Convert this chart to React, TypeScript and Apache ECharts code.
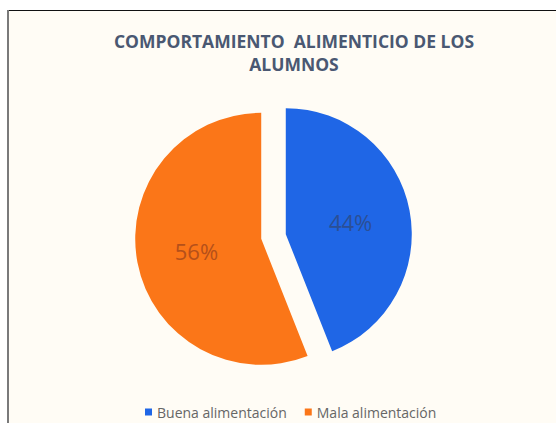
import React, { useEffect, useRef } from "react";
import * as echarts from "echarts";

const categories = ["Buena alimentación", "Mala alimentación"];
const values = [44, 56];
const colors = ["#1f66e6", "#fb7618"];
const labelColors = ["#2b4f95", "#b5501a"];
const titleText = "COMPORTAMIENTO  ALIMENTICIO DE LOS\nALUMNOS";

export default function App() {
  const ref = useRef<HTMLDivElement>(null);
  useEffect(() => {
    if (!ref.current) return;
    const chart = echarts.init(ref.current, null, { renderer: "svg" });
    chart.setOption({
      animation: false,
      backgroundColor: "#ffffff",
      graphic: [
        {
          type: "rect",
          shape: { x: 8, y: 10, width: 560, height: 420 },
          style: { fill: "#fffcf5" },
          z: -10,
          silent: true,
        },
        {
          type: "line",
          shape: { x1: 8, y1: 10.5, x2: 556, y2: 10.5 },
          style: { stroke: "#111111", lineWidth: 1 },
          silent: true,
        },
        {
          type: "line",
          shape: { x1: 8, y1: 10, x2: 8, y2: 423 },
          style: { stroke: "#7a7a7a", lineWidth: 2 },
          silent: true,
        },
      ],
      title: {
        text: titleText,
        left: 289,
        top: 24,
        textAlign: "center",
        textStyle: {
          fontFamily: "Open Sans",
          fontSize: 17.5,
          fontWeight: "bold",
          color: "#4a5872",
          lineHeight: 23,
        },
      },
      legend: {
        left: 140,
        top: 400,
        itemWidth: 7,
        itemHeight: 7,
        itemGap: 18,
        icon: "rect",
        selectedMode: false,
        textStyle: { fontFamily: "Open Sans", fontSize: 14, color: "#666666" },
        data: categories,
      },
      series: [
        {
          type: "pie",
          center: [273.5, 236.5],
          radius: 126,
          startAngle: 90,
          clockwise: true,
          selectedMode: "multiple",
          selectedOffset: 12.5,
          emphasis: { disabled: true },
          label: {
            show: true,
            position: "inside",
            fontFamily: "Open Sans",
            fontSize: 22,
            formatter: (p: any) => Math.round(p.percent) + "%",
          },
          labelLine: { show: false },
          data: categories.map((name, i) => ({
            name,
            value: values[i],
            selected: true,
            itemStyle: { color: colors[i] },
            label: { color: labelColors[i] },
          })),
        },
      ],
    });
    return () => chart.dispose();
  }, []);
  return (
    <div
      ref={ref}
      style={{ position: "absolute", left: 0, top: 0, width: 556, height: 423 }}
    />
  );
}
